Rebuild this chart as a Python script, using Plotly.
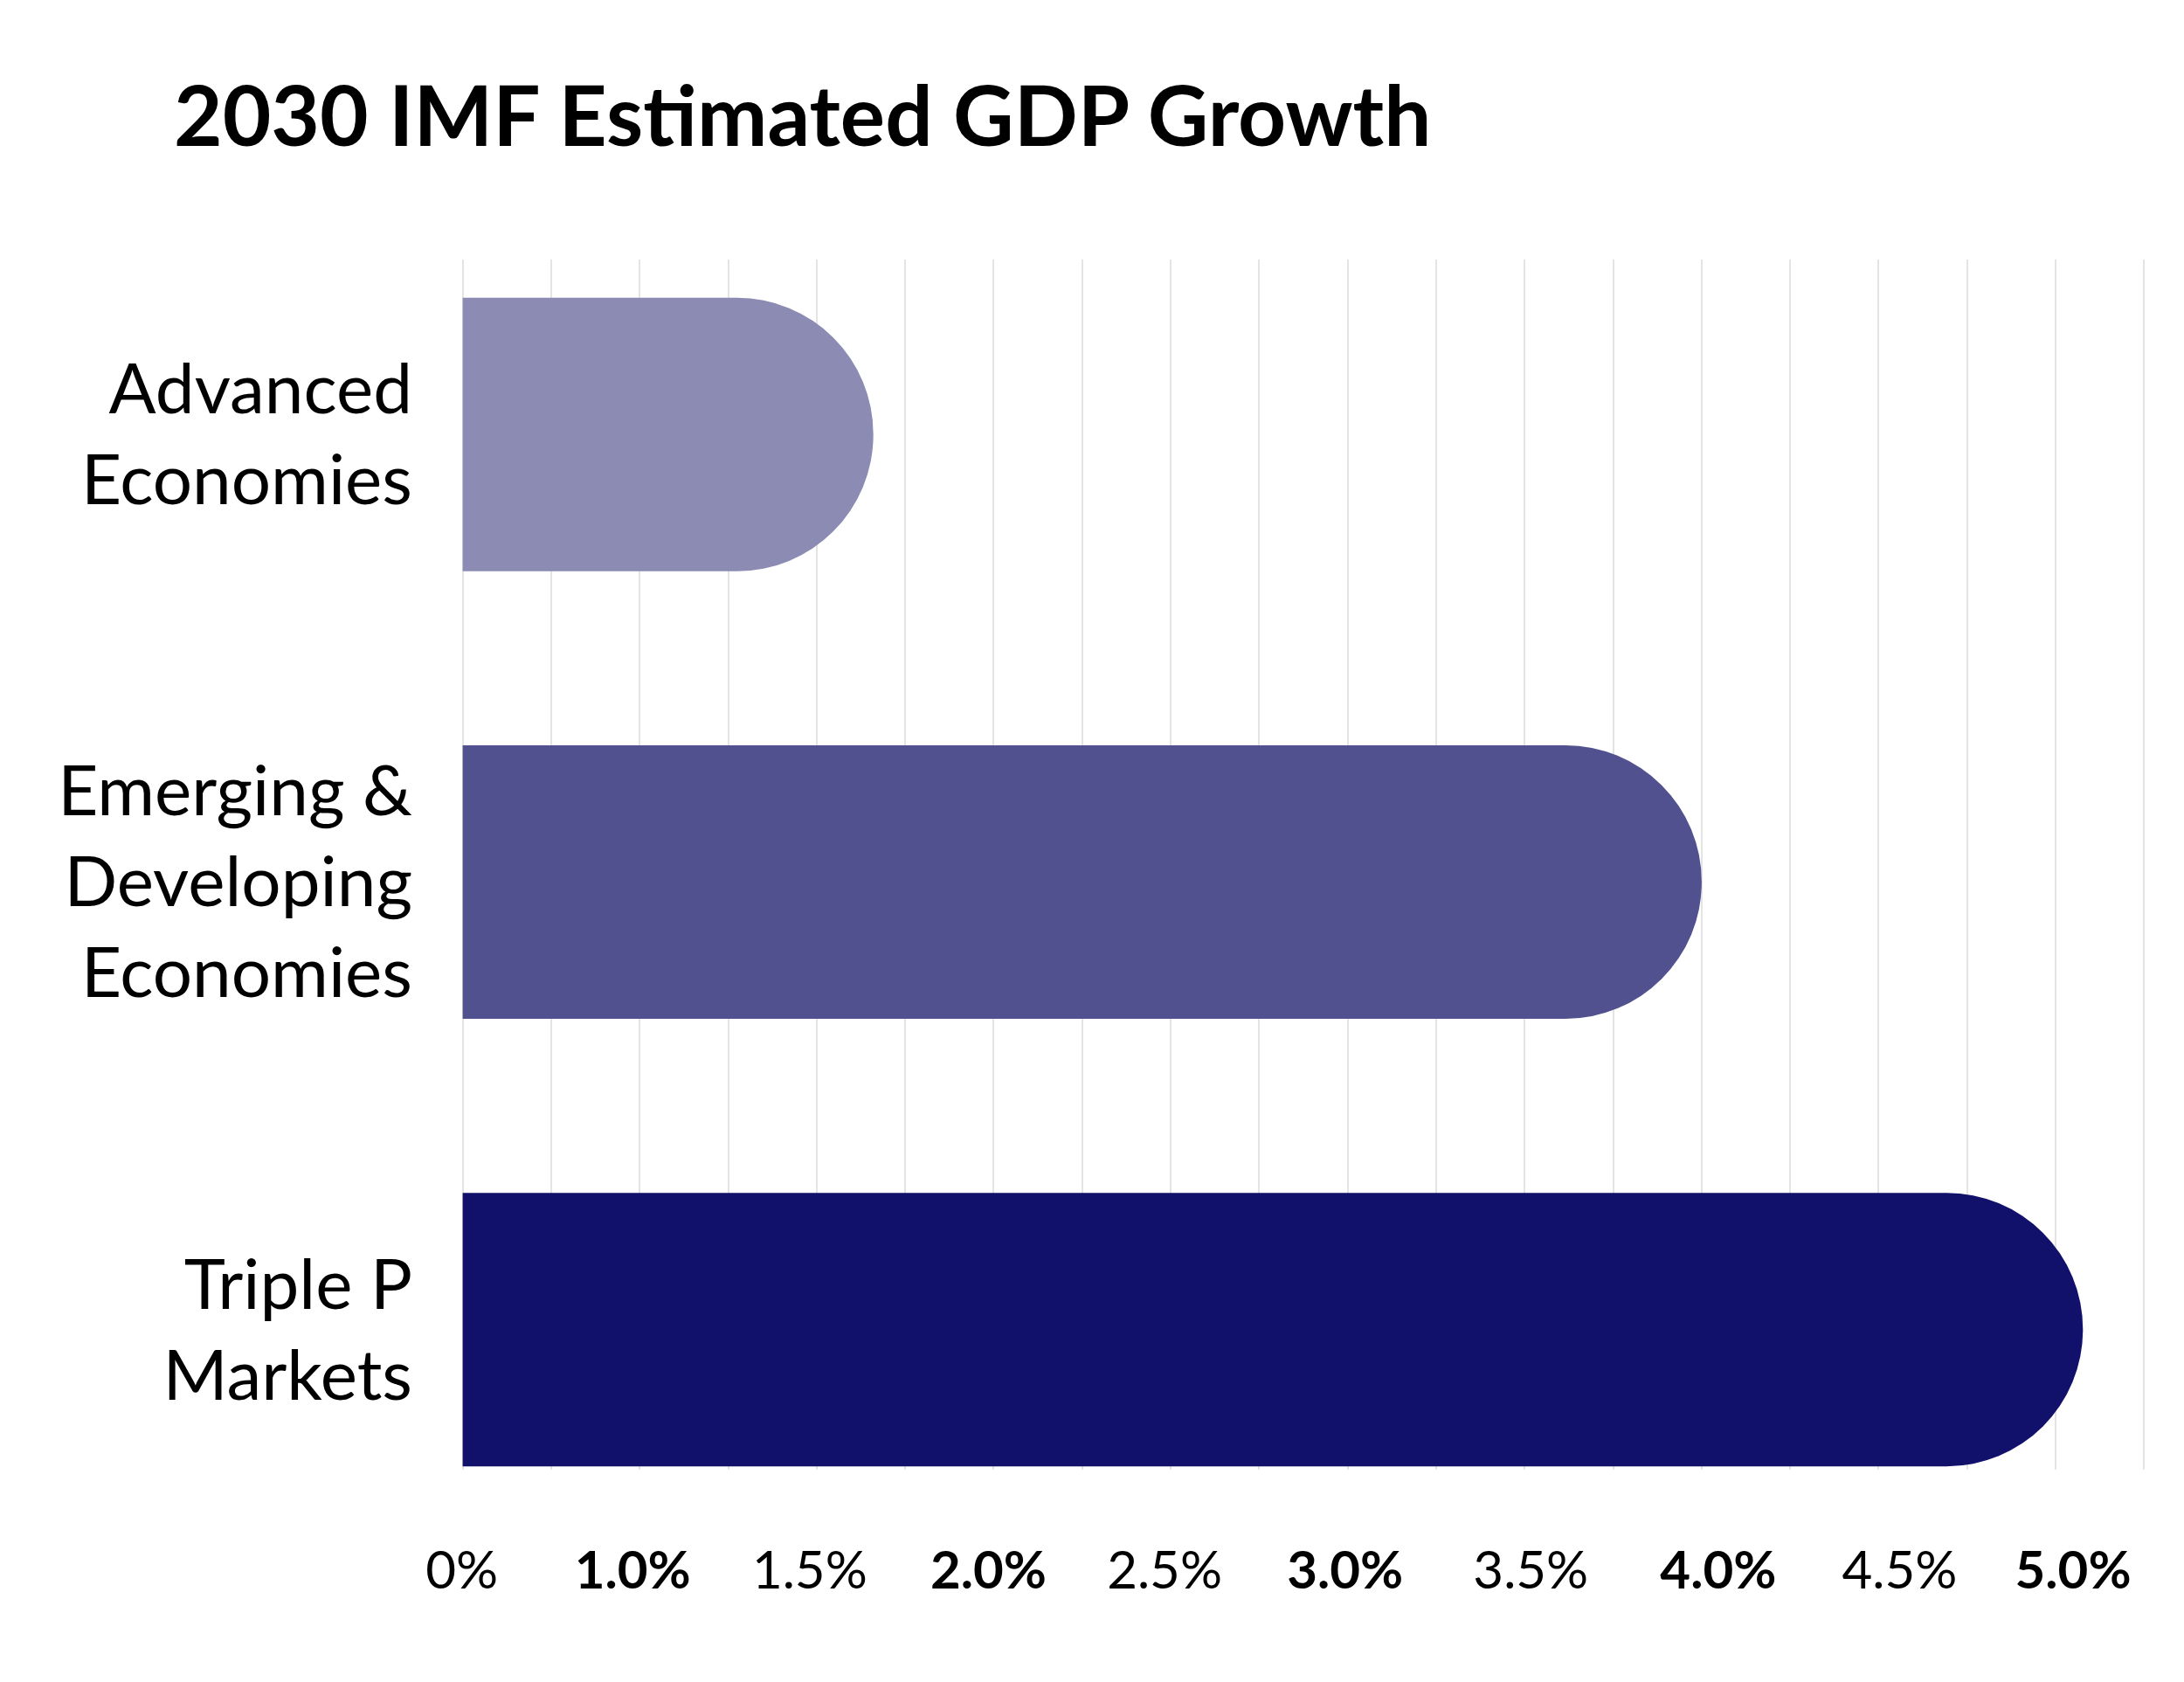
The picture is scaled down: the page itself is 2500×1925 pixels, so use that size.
import plotly.graph_objects as go

# Data (values expressed on the chart's axis scale)
categories = ["Advanced<br>Economies", "Emerging &<br>Developing<br>Economies", "Triple P<br>Markets"]
values = [1.16, 3.50, 4.577]
colors = ["#8B8BB4", "#52518F", "#11116B"]

tick_vals = [0, 0.5, 1.0, 1.5, 2.0, 2.5, 3.0, 3.5, 4.0, 4.5]
tick_text = ["0%", "<b>1.0%</b>", "1.5%", "<b>2.0%</b>", "2.5%", "<b>3.0%</b>",
             "3.5%", "<b>4.0%</b>", "4.5%", "<b>5.0%</b>"]

# small horizontal nudges of the tick labels (pixels), as in the original layout
label_nudge_px = [-1, -8, -8, -6, -7, -3, 7, 19, 24, 20]

FONT = "Lato"
PX_PER_UNIT = 405.2
label_pos = [v + d / PX_PER_UNIT for v, d in zip(tick_vals, label_nudge_px)]

fig = go.Figure()
fig.add_trace(go.Bar(
    x=values,
    y=categories,
    orientation="h",
    marker=dict(color=colors, cornerradius="50%", line=dict(width=0)),
    width=0.611,
    hoverinfo="x+y",
))

fig.update_layout(
    width=2500,
    height=1925,
    paper_bgcolor="white",
    plot_bgcolor="white",
    showlegend=False,
    margin=dict(l=520, r=52, t=289, b=251),
    title=dict(
        text="<b>2030 IMF Estimated GDP Growth</b>",
        font=dict(family=FONT, size=96, color="black"),
        x=191 / 2500, xanchor="left", xref="container",
        y=1 - 125 / 1925, yanchor="middle", yref="container",
    ),
    font=dict(family=FONT, color="black"),
)

fig.update_xaxes(
    range=[-0.004, 4.754],
    tickvals=label_pos,
    ticktext=tick_text,
    tickfont=dict(family=FONT, size=60, color="black"),
    showgrid=False,
    minor=dict(dtick=0.25, tick0=0, showgrid=True, gridcolor="#E4E4E4", gridwidth=2, ticks=""),
    zeroline=False,
    showline=False,
    ticks="",
    ticklabelstandoff=75,
    fixedrange=True,
)

fig.update_yaxes(
    type="category",
    categoryorder="array",
    categoryarray=categories,
    range=[2.313, -0.391],
    tickfont=dict(family=FONT, size=80, color="black"),
    showgrid=False,
    zeroline=False,
    showline=False,
    ticks="",
    ticklabelstandoff=55,
    fixedrange=True,
)

fig.write_html("out.html")
